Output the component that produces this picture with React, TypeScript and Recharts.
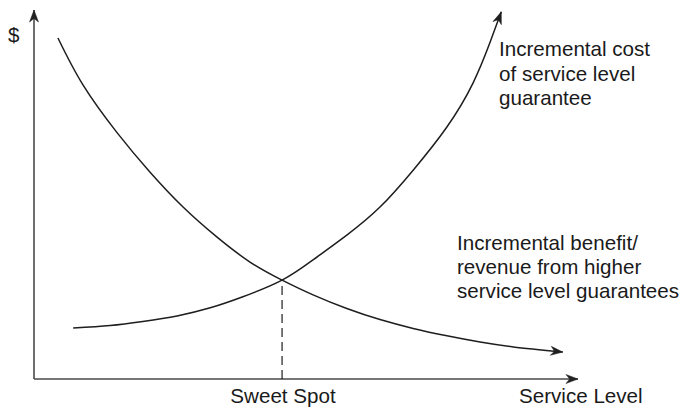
import React from "react";
import { LineChart, Line, XAxis, YAxis, ReferenceLine } from "recharts";

// Service level (0-100) and $ (0-100)
const benefitX = [4.4, 9.0, 15.3, 21.3, 27.4, 33.6, 39.7, 45.6, 51.3, 57.5, 63.6, 69.7, 75.9, 82.0, 88.1, 97.2];
const benefitY = [92.4, 79.7, 66.7, 56.1, 46.6, 38.5, 31.7, 26.8, 22.8, 19.1, 16.1, 13.7, 11.7, 10.0, 8.7, 7.3];

const costX = [7.2, 14.0, 20.0, 26.3, 32.4, 38.4, 45.6, 51.3, 57.5, 63.6, 69.7, 75.9, 80.7, 83.8, 85.9];
const costY = [13.8, 14.5, 15.6, 17.1, 19.3, 22.3, 26.8, 32.3, 39.0, 46.6, 56.6, 68.3, 80.2, 91.1, 99.5];

const sweetSpot = { x: 45.6, y: 26.8 };
const axisMax = 100;

const yAxisLabel = "$";
const xAxisLabel = "Service Level";
const sweetSpotLabel = "Sweet Spot";
const costLabelLines = ["Incremental cost", "of service level", "guarantee"];
const benefitLabelLines = ["Incremental benefit/", "revenue from higher", "service level guarantees"];

const benefitData = benefitX.map((x, i) => ({ x, y: benefitY[i] }));
const costData = costX.map((x, i) => ({ x, y: costY[i] }));

const W = 688;
const H = 412;
const FONT = "'Liberation Sans', Arial, Helvetica, sans-serif";
const FS = 20.6;
const CURVE = "#1e1e1e";
const AXIS = "#4a4a4a";

function arrowHead(x1: number, y1: number, x2: number, y2: number, color: string, len = 12, half = 4.5) {
  const dx = x2 - x1;
  const dy = y2 - y1;
  const d = Math.sqrt(dx * dx + dy * dy) || 1;
  const ux = dx / d;
  const uy = dy / d;
  const bx = x2 - ux * len;
  const by = y2 - uy * len;
  const nx = -uy;
  const ny = ux;
  const pts = `${x2},${y2} ${bx + nx * half},${by + ny * half} ${x2 - ux * len * 0.7},${y2 - uy * len * 0.7} ${bx - nx * half},${by - ny * half}`;
  return <polygon points={pts} fill={color} stroke={color} strokeWidth={0.5} />;
}

const makeArrowDot = (count: number) => (props: any) => {
  const { cx, cy, index, points } = props;
  if (index !== count - 1 || !points || points.length < 2) {
    return <g key={`d-${index}`} />;
  }
  const prev = points[points.length - 2];
  return <g key={`d-${index}`}>{arrowHead(prev.x, prev.y, cx, cy, CURVE)}</g>;
};

const axisShape = (props: any) => {
  const { x1, y1, x2, y2 } = props;
  return (
    <g>
      <line x1={x1} y1={y1} x2={x2} y2={y2} stroke={AXIS} strokeWidth={1.6} />
      {arrowHead(x1, y1, x2, y2, "#222")}
    </g>
  );
};

export default function App() {
  return (
    <div style={{ position: "absolute", left: 0, top: 0, width: W, height: H, background: "#fff" }}>
      <LineChart width={W} height={H} margin={{ top: 10, right: 110, bottom: 33, left: 34 }}>
        <XAxis type="number" dataKey="x" domain={[0, axisMax]} hide />
        <YAxis type="number" dataKey="y" domain={[0, axisMax]} hide />
        <ReferenceLine
          segment={[{ x: 0, y: 0 }, { x: axisMax, y: 0 }]}
          shape={axisShape}
          ifOverflow="visible"
        />
        <ReferenceLine
          segment={[{ x: 0, y: 0 }, { x: 0, y: axisMax }]}
          shape={axisShape}
          ifOverflow="visible"
        />
        <ReferenceLine
          segment={[{ x: sweetSpot.x, y: 0 }, { x: sweetSpot.x, y: sweetSpot.y }]}
          stroke={CURVE}
          strokeWidth={1.2}
          strokeDasharray="9 5"
          ifOverflow="visible"
        />
        <Line
          data={benefitData}
          dataKey="y"
          type="natural"
          stroke={CURVE}
          strokeWidth={1.5}
          dot={makeArrowDot(benefitData.length)}
          activeDot={false}
          isAnimationActive={false}
        />
        <Line
          data={costData}
          dataKey="y"
          type="natural"
          stroke={CURVE}
          strokeWidth={1.5}
          dot={makeArrowDot(costData.length)}
          activeDot={false}
          isAnimationActive={false}
        />
        <text x={8} y={42} fontFamily={FONT} fontSize={FS} fill="#1a1a1a">{yAxisLabel}</text>
        <text x={283} y={403} textAnchor="middle" fontFamily={FONT} fontSize={FS} fill="#1a1a1a">{sweetSpotLabel}</text>
        <text x={519} y={403} fontFamily={FONT} fontSize={FS} fill="#1a1a1a">{xAxisLabel}</text>
        {costLabelLines.map((t, i) => (
          <text key={`c-${i}`} x={499} y={56 + i * 24.5} fontFamily={FONT} fontSize={FS} fill="#1a1a1a">{t}</text>
        ))}
        {benefitLabelLines.map((t, i) => (
          <text key={`b-${i}`} x={457} y={250 + i * 24} fontFamily={FONT} fontSize={FS} fill="#1a1a1a">{t}</text>
        ))}
      </LineChart>
    </div>
  );
}
